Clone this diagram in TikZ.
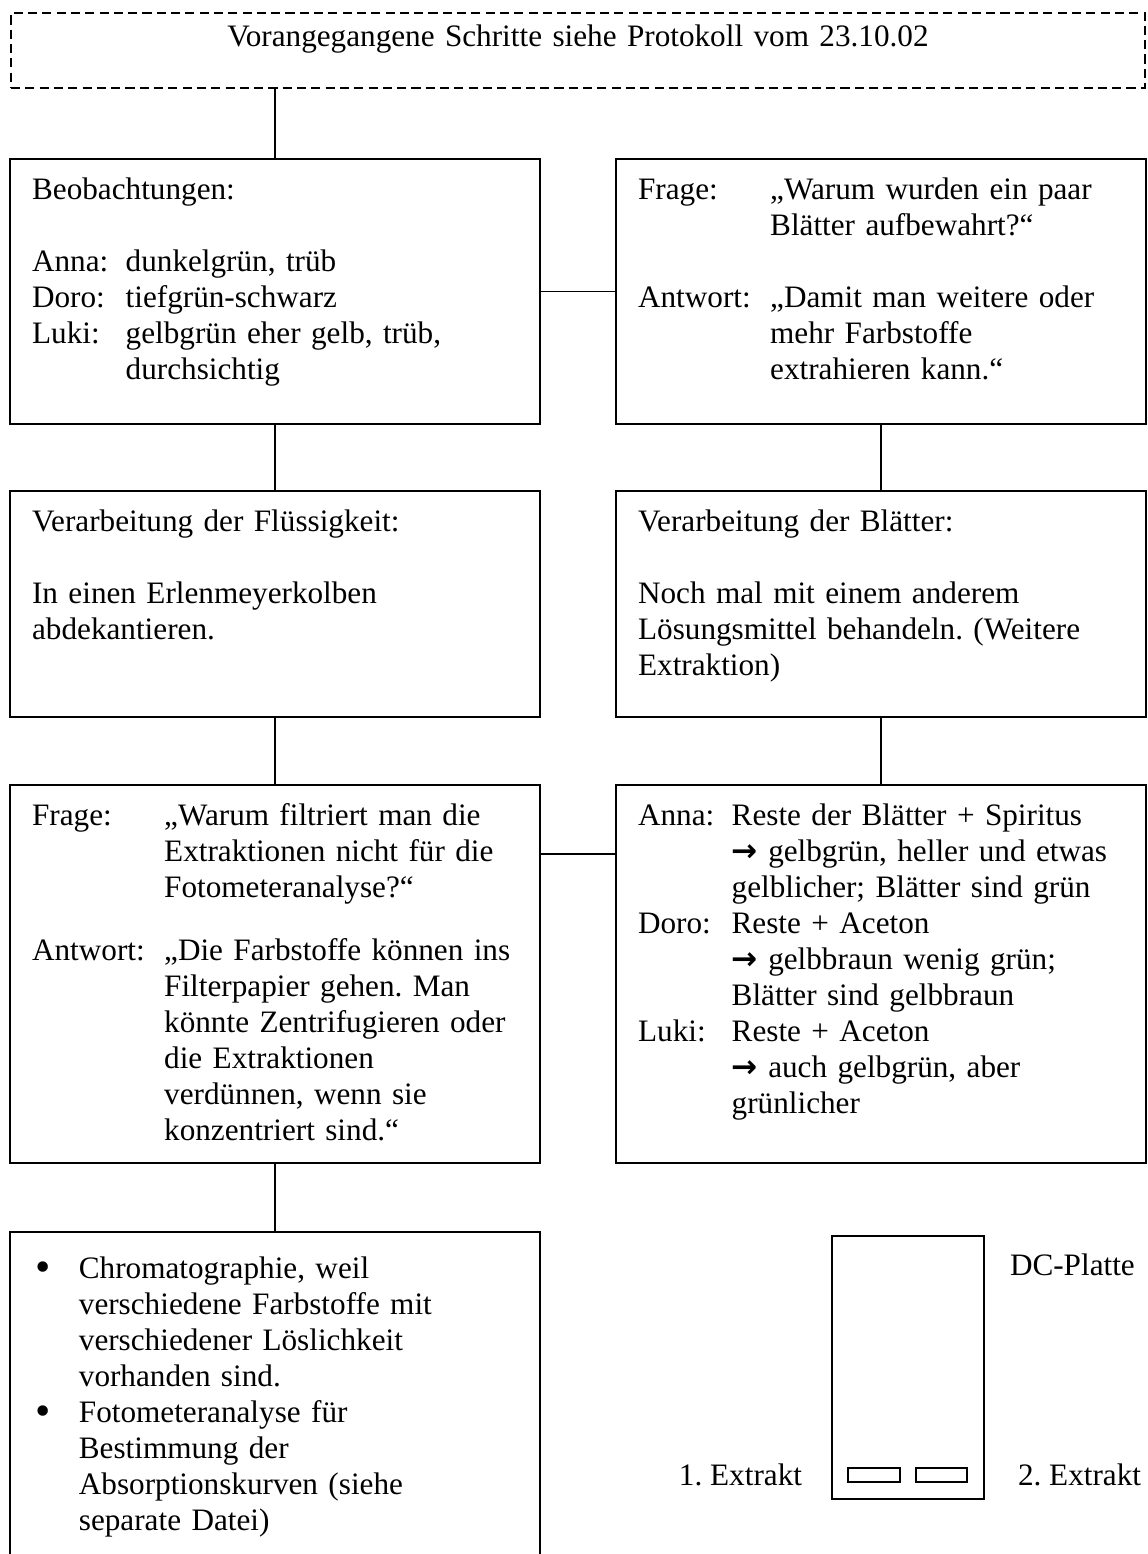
\documentclass[tikz,border=0pt]{standalone}
\usepackage{fontspec}
\setmainfont{Liberation Serif}
\newfontfamily\pfeilfont{DejaVu Sans}
\frenchspacing
\newlength{\zeile}
\setlength{\zeile}{13.85pt}
\newcommand{\marke}[2][36pt]{\makebox[#1][l]{#2}}
\newcommand{\pfeil}{{\pfeilfont\bfseries →}}
\newcommand{\punkt}{\hspace*{1.5pt}\makebox[16.5pt][l]{\raisebox{-1.2pt}{\scalebox{1.4}{•}}}}
\newcommand{\einzug}{\hspace*{18pt}}
\tikzset{
  kasten/.style={draw, line width=0.75pt, rectangle, anchor=north west, outer sep=0pt,
    inner xsep=8.5pt, inner ysep=6pt, text width=186.8pt, align=left, text height=9.7pt},
  linie/.style={line width=0.75pt},
  etikett/.style={inner sep=0pt, outer sep=0pt}
}
\begin{document}
\begin{tikzpicture}[x=0.3846pt, y=-0.3846pt, font=\fontsize{12}{13.85}\selectfont]
\useasboundingbox (0,0) rectangle (1147,1554);
% Kopf
\node[kasten, dash pattern=on 3.5pt off 2pt, text width=419.1pt, inner ysep=3pt, align=center, text depth=13.15pt] (vorher) at (11,13) {Vorangegangene Schritte siehe Protokoll vom 23.10.02};
% erste Reihe
\node[kasten, text depth=80.2pt] (beob) at (10,159) {Beobachtungen:\\[\zeile]
\marke{Anna:}dunkelgrün, trüb\\
\marke{Doro:}tiefgrün-schwarz\\
\marke{Luki:}gelbgrün eher gelb, trüb,\\
\marke{}durchsichtig};
\node[kasten, text depth=80.2pt] (frage) at (616,159) {\marke[50.8pt]{Frage:}„Warum wurden ein paar\\
\marke[50.8pt]{}Blätter aufbewahrt?“\\[\zeile]
\marke[50.8pt]{Antwort:}„Damit man weitere oder\\
\marke[50.8pt]{}mehr Farbstoffe\\
\marke[50.8pt]{}extrahieren kann.“};
% zweite Reihe
\node[kasten, text depth=65.2pt] (fluessig) at (10,491) {Verarbeitung der Flüssigkeit:\\[\zeile]
In einen Erlenmeyerkolben\\
abdekantieren.};
\node[kasten, text depth=65.2pt] (blaetter) at (616,491) {Verarbeitung der Blätter:\\[\zeile]
Noch mal mit einem anderem\\
Lösungsmittel behandeln. (Weitere\\
Extraktion)};
% dritte Reihe
\node[kasten, text depth=123.7pt] (filter) at (10,785) {\marke[50.8pt]{Frage:}„Warum filtriert man die\\
\marke[50.8pt]{}Extraktionen nicht für die\\
\marke[50.8pt]{}Fotometeranalyse?“\\[0.75\zeile]
\marke[50.8pt]{Antwort:}„Die Farbstoffe können ins\\
\marke[50.8pt]{}Filterpapier gehen. Man\\
\marke[50.8pt]{}könnte Zentrifugieren oder\\
\marke[50.8pt]{}die Extraktionen\\
\marke[50.8pt]{}verdünnen, wenn sie\\
\marke[50.8pt]{}konzentriert sind.“};
\node[kasten, text depth=123.7pt] (reste) at (616,785) {\marke{Anna:}Reste der Blätter + Spiritus\\
\marke{}\pfeil{} gelbgrün, heller und etwas\\
\marke{}gelblicher; Blätter sind grün\\
\marke{Doro:}Reste + Aceton\\
\marke{}\pfeil{} gelbbraun wenig grün;\\
\marke{}Blätter sind gelbbraun\\
\marke{Luki:}Reste + Aceton\\
\marke{}\pfeil{} auch gelbgrün, aber\\
\marke{}grünlicher};
% letzte Reihe, unten offen
\node[kasten, draw=none, text height=11.7pt, text depth=100.1pt] (ende) at (10,1232) {\punkt Chromatographie, weil\\
\einzug verschiedene Farbstoffe mit\\
\einzug verschiedener Löslichkeit\\
\einzug vorhanden sind.\\
\punkt Fotometeranalyse für\\
\einzug Bestimmung der\\
\einzug Absorptionskurven (siehe\\
\einzug separate Datei)};
\draw[linie] (ende.south west) -- (ende.north west) -- (ende.north east) -- (ende.south east);
% Verbindungen
\draw[linie] (vorher.south -| beob.north) -- (beob.north);
\draw[linie] (beob.east) -- (frage.west);
\draw[linie] (beob.south) -- (fluessig.north);
\draw[linie] (frage.south) -- (blaetter.north);
\draw[linie] (fluessig.south) -- (filter.north);
\draw[linie] (blaetter.south) -- (reste.north);
\draw[linie] ([yshift=-26.5pt]filter.north east) -- ([yshift=-26.5pt]reste.north west);
\draw[linie] (filter.south) -- (ende.north);
% DC-Platte
\node[draw, line width=0.75pt, anchor=north west, inner sep=0pt, outer sep=0pt,
  minimum width=58.5pt, minimum height=101pt] (platte) at (832,1236) {};
\draw[linie] (848,1468) rectangle (900,1482);
\draw[linie] (916,1468) rectangle (967,1482);
\node[etikett, anchor=west] (dcname) at (1010,1265) {DC-Platte};
\node[etikett, anchor=east] (extrakt1) at (802,1475) {1. Extrakt};
\node[etikett, anchor=west] (extrakt2) at (1018,1475) {2. Extrakt};
\end{tikzpicture}
\end{document}
